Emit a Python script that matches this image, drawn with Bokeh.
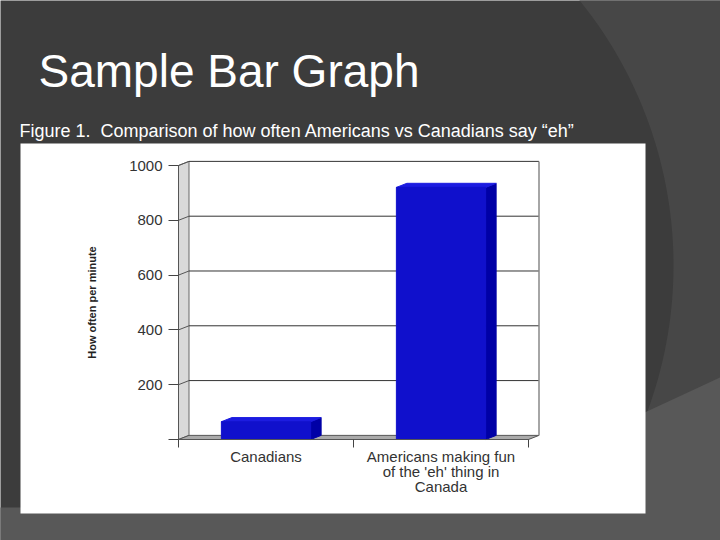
import math
from bokeh.plotting import figure
from bokeh.models import Range1d, FixedTicker, ColumnDataSource, LinearAxis
from bokeh.core.properties import value
from bokeh.embed import file_html
from bokeh.resources import INLINE

# ---- data ----
categories = ["Canadians", "Americans making fun\nof the 'eh' thing in\nCanada"]
values = [65, 920]
y_ticks = [0, 200, 400, 600, 800, 1000]
y_tick_labels = ["", "200", "400", "600", "800", "1000"]
slide_title = "Sample Bar Graph"
fig_caption = "Figure 1.\u00a0 Comparison of how often Americans vs Canadians say \u201ceh\u201d"
y_label = "How often per minute"

# ---- style / geometry (slide pixels) ----
W, H = 720, 540
X0_PX, CAT_PX = 178, 175.0       # chart origin x and pixels per category
Y0_PX, VAL_PX = 439, 0.274       # chart baseline y and pixels per unit
DX = 0.06      # 3D depth offset (category units)
DY = 15.0      # 3D depth offset (value units)
BAR_W = 0.51
FONT = "Liberation Sans"
DARK, MID, LIGHT = "#3c3c3c", "#474747", "#585858"

p = figure(width=W, height=H, output_backend="svg", toolbar_location=None,
           x_range=Range1d(0, W), y_range=Range1d(H, 0),
           min_border=0, x_axis_type=None, y_axis_type=None)
p.min_border_left = p.min_border_right = p.min_border_top = p.min_border_bottom = 0
p.background_fill_color = DARK
p.border_fill_color = DARK
p.outline_line_color = None
p.xgrid.visible = False
p.ygrid.visible = False
p.extra_x_ranges = {"cat": Range1d(-X0_PX / CAT_PX, (W - X0_PX) / CAT_PX)}
p.extra_y_ranges = {"val": Range1d(-(H - Y0_PX) / VAL_PX, Y0_PX / VAL_PX)}

# ---- slide background ----
cx, cy, rr = 252.0, 265.0, 421.0
arc_x, arc_y = [], []
for k in range(0, 61):
    yy = -10 + k * (530 / 60.0)
    arc_x.append(cx + math.sqrt(max(rr * rr - (yy - cy) ** 2, 0)))
    arc_y.append(yy)
p.patch(arc_x + [730, 730], arc_y + [520, -10], fill_color=MID, line_color=None)
p.patch([-10, 440, 730, 730, -10], [507, 507, 372, 550, 550],
        fill_color=LIGHT, line_color=None)
p.quad(left=[20], right=[645], top=[143], bottom=[513], fill_color="white",
       line_color=None)

p.text(x=[38], y=[70], text=[slide_title], text_color="white",
       text_font=value(FONT), text_font_size="46px",
       text_baseline="alphabetic", text_align="left")
p.text(x=[19], y=[130], text=[fig_caption], text_color="white",
       text_font=value(FONT), text_font_size="18px",
       text_baseline="alphabetic", text_align="left")

# ---- 3D walls ----
kw = dict(x_range_name="cat", y_range_name="val")
p.patch([0, DX, DX, 0], [0, DY, 1000 + DY, 1000], fill_color="#d9d9d9",
        line_color="#666666", line_width=1, **kw)
p.patch([0, 2, 2 + DX, DX], [0, 0, DY, DY], fill_color="#aaaaaa",
        line_color="#555555", line_width=1, **kw)
grid_v = [v for v in y_ticks if v > 0]
p.segment(x0=[DX] * len(grid_v), y0=[v + DY for v in grid_v],
          x1=[2 + DX] * len(grid_v), y1=[v + DY for v in grid_v],
          line_color="#333333", line_width=1, **kw)
p.segment(x0=[0] * len(grid_v), y0=grid_v, x1=[DX] * len(grid_v),
          y1=[v + DY for v in grid_v], line_color="#555555", line_width=1, **kw)
p.segment(x0=[2 + DX], y0=[DY], x1=[2 + DX], y1=[1000 + DY],
          line_color="#888888", line_width=1.5, **kw)

# ---- bars ----
centers = [0.5 + i for i in range(len(values))]
src = ColumnDataSource(dict(x=centers, top=values))
side_xs, side_ys, top_xs, top_ys = [], [], [], []
for c, v in zip(centers, values):
    r = c + BAR_W / 2
    l = c - BAR_W / 2
    side_xs.append([r, r + DX, r + DX, r])
    side_ys.append([0, DY, v + DY, v])
    top_xs.append([l, r, r + DX, l + DX])
    top_ys.append([v, v, v + DY, v + DY])
p.patches(side_xs, side_ys, fill_color="#0000a6", line_color="#0000a6", **kw)
p.patches(top_xs, top_ys, fill_color="#1c1ce0", line_color="#1c1ce0", **kw)
p.vbar(x="x", top="top", bottom=0, width=BAR_W, source=src,
       fill_color="#1010cc", line_color="#1010cc", **kw)

# ---- axes ----
yax = LinearAxis(x_range_name="cat", y_range_name="val", fixed_location=0,
                 bounds=(0, 1000))
yax.ticker = FixedTicker(ticks=y_ticks)
yax.major_label_overrides = {t: s for t, s in zip(y_ticks, y_tick_labels)}
yax.major_tick_out = 10
yax.major_tick_in = 0
yax.minor_tick_line_color = None
yax.major_tick_line_color = "#444444"
yax.axis_line_color = "#555555"
yax.major_label_standoff = 6
yax.major_label_text_font = FONT
yax.major_label_text_font_size = "15px"
yax.major_label_text_color = "#333333"
yax.axis_label = y_label
yax.axis_label_text_font = FONT
yax.axis_label_text_font_style = "bold"
yax.axis_label_text_font_size = "11px"
yax.axis_label_text_color = "#222222"
yax.axis_label_standoff = 28
p.add_layout(yax, "left")

xax = LinearAxis(x_range_name="cat", y_range_name="val", fixed_location=0,
                 bounds=(0, 2))
xax.ticker = FixedTicker(ticks=centers, minor_ticks=[0, 1, 2])
xax.major_label_overrides = {c: s for c, s in zip(centers, categories)}
xax.major_tick_line_color = None
xax.major_tick_out = 0
xax.major_tick_in = 0
xax.minor_tick_out = 8
xax.minor_tick_in = 0
xax.minor_tick_line_color = "#444444"
xax.axis_line_color = "#555555"
xax.major_label_standoff = 0
xax.major_label_text_font = FONT
xax.major_label_text_font_size = "15px"
xax.major_label_text_color = "#333333"
xax.major_label_text_line_height = 0.9
p.add_layout(xax, "below")

open("out.html", "w").write(file_html(p, INLINE))
